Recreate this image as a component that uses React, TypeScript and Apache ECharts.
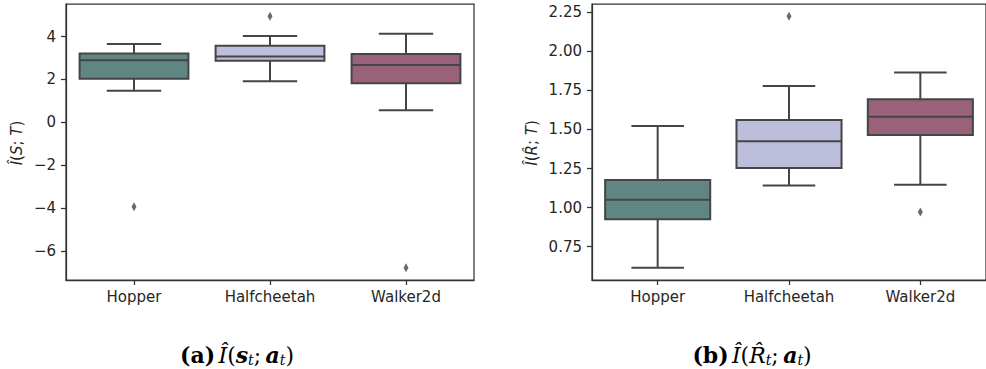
import React, { useEffect, useRef } from "react";
import * as echarts from "echarts";

const categories = ["Hopper", "Halfcheetah", "Walker2d"];

// [whiskerLow, Q1, median, Q3, whiskerHigh]
const boxStatsA = [
  [1.47, 2.03, 2.9, 3.21, 3.66],
  [1.92, 2.87, 3.07, 3.57, 4.03],
  [0.56, 1.83, 2.68, 3.19, 4.13],
];
const outliersA: [string, number][] = [
  ["Hopper", -3.93],
  ["Halfcheetah", 4.95],
  ["Walker2d", -6.78],
];
const boxStatsB = [
  [0.615, 0.926, 1.051, 1.177, 1.523],
  [1.141, 1.254, 1.425, 1.56, 1.778],
  [1.147, 1.465, 1.581, 1.694, 1.865],
];
const outliersB: [string, number][] = [
  ["Halfcheetah", 2.224],
  ["Walker2d", 0.972],
];
const ticksA = [-6, -4, -2, 0, 2, 4];
const ticksB = [0.75, 1.0, 1.25, 1.5, 1.75, 2.0, 2.25];
const rangeA = [-7.35, 5.52];
const rangeB = [0.537, 2.303];

const boxColors = ["#5f8682", "#bcbedc", "#99627a"];
const edge = "#454545";
const textColor = "#262626";
const sans = "DejaVu Sans";
const serif = "DejaVu Serif";

function makeRenderBox() {
  return (params: any, api: any) => {
    const x = api.value(0);
    const p = (i: number) => api.coord([x, api.value(i)]);
    const [cx, yMin] = p(1);
    const yQ1 = p(2)[1];
    const yMed = p(3)[1];
    const yQ3 = p(4)[1];
    const yMax = p(5)[1];
    const bw = api.size([1, 0])[0] * 0.8;
    const cap = bw / 4;
    const ls = { stroke: edge, lineWidth: 2 };
    return {
      type: "group",
      children: [
        { type: "line", shape: { x1: cx, y1: yQ3, x2: cx, y2: yMax }, style: ls },
        { type: "line", shape: { x1: cx, y1: yQ1, x2: cx, y2: yMin }, style: ls },
        { type: "line", shape: { x1: cx - cap, y1: yMax, x2: cx + cap, y2: yMax }, style: ls },
        { type: "line", shape: { x1: cx - cap, y1: yMin, x2: cx + cap, y2: yMin }, style: ls },
        {
          type: "rect",
          shape: { x: cx - bw / 2, y: yQ3, width: bw, height: yQ1 - yQ3 },
          style: { fill: boxColors[params.dataIndex], stroke: edge, lineWidth: 2 },
        },
        { type: "line", shape: { x1: cx - bw / 2, y1: yMed, x2: cx + bw / 2, y2: yMed }, style: ls },
      ],
    };
  };
}

const fmtA = (v: number) => (v < 0 ? "\u2212" + Math.abs(v) : String(v));
const fmtB = (v: number) => v.toFixed(2);

function yAxisCfg(gridIndex: number, range: number[], ticks: number[], fmt: (v: number) => string) {
  return {
    type: "value",
    gridIndex,
    min: range[0],
    max: range[1],
    splitLine: { show: false },
    axisLine: { show: true, lineStyle: { color: "#333", width: 1.25 } },
    axisTick: { show: true, length: 5, customValues: ticks, lineStyle: { color: "#333", width: 1.25 } },
    axisLabel: {
      customValues: ticks,
      formatter: fmt,
      margin: 10,
      color: textColor,
      fontFamily: sans,
      fontSize: 15,
    },
  };
}

function xAxisCfg(gridIndex: number) {
  return {
    type: "category",
    gridIndex,
    data: categories,
    boundaryGap: true,
    axisLine: { show: true, onZero: false, lineStyle: { color: "#333", width: 1.25 } },
    axisTick: { show: true, alignWithLabel: true, length: 5, lineStyle: { color: "#333", width: 1.25 } },
    axisLabel: { margin: 9, color: textColor, fontFamily: sans, fontSize: 15 },
    splitLine: { show: false },
  };
}

const labelRich = {
  i: { fontFamily: sans, fontStyle: "italic", fontSize: 15, fill: textColor },
  n: { fontFamily: sans, fontSize: 15, fill: textColor },
};

const capRich = {
  b: { fontFamily: serif, fontWeight: "bold", fontSize: 22, lineHeight: 24, fill: "#000" },
  i: { fontFamily: serif, fontStyle: "italic", fontSize: 22, lineHeight: 24, fill: "#000" },
  bi: { fontFamily: serif, fontStyle: "italic", fontWeight: "bold", fontSize: 22, lineHeight: 24, fill: "#000" },
  n: { fontFamily: serif, fontSize: 22, lineHeight: 24, fill: "#000" },
  sub: { fontFamily: serif, fontStyle: "italic", fontSize: 14, lineHeight: 12, verticalAlign: "bottom", fill: "#000" },
};

export default function App() {
  const ref = useRef<HTMLDivElement>(null);
  useEffect(() => {
    document.body.style.margin = "0";
    if (!ref.current) return;
    const chart = echarts.init(ref.current, null, { renderer: "svg" });
    const gridBase = {
      show: true,
      borderColor: "#333",
      borderWidth: 1.25,
      backgroundColor: "transparent",
      containLabel: false,
    };
    chart.setOption({
      animation: false,
      backgroundColor: "#ffffff",
      grid: [
        { ...gridBase, left: 66, top: 4, width: 408, height: 276 },
        { ...gridBase, left: 592, top: 4, width: 396, height: 276 },
      ],
      xAxis: [xAxisCfg(0), xAxisCfg(1)],
      yAxis: [yAxisCfg(0, rangeA, ticksA, fmtA), yAxisCfg(1, rangeB, ticksB, fmtB)],
      series: [
        {
          type: "custom",
          xAxisIndex: 0,
          yAxisIndex: 0,
          renderItem: makeRenderBox(),
          encode: { x: 0, y: [1, 2, 3, 4, 5] },
          data: boxStatsA.map((b, i) => [i, ...b]),
          z: 2,
        },
        {
          type: "scatter",
          xAxisIndex: 0,
          yAxisIndex: 0,
          symbol: "diamond",
          symbolSize: [5, 9],
          itemStyle: { color: edge },
          data: outliersA,
          z: 3,
        },
        {
          type: "custom",
          xAxisIndex: 1,
          yAxisIndex: 1,
          renderItem: makeRenderBox(),
          encode: { x: 0, y: [1, 2, 3, 4, 5] },
          data: boxStatsB.map((b, i) => [i, ...b]),
          z: 2,
        },
        {
          type: "scatter",
          xAxisIndex: 1,
          yAxisIndex: 1,
          symbol: "diamond",
          symbolSize: [5, 9],
          itemStyle: { color: edge },
          data: outliersB,
          z: 3,
        },
      ],
      graphic: [
        {
          type: "text",
          x: 17,
          y: 143,
          rotation: Math.PI / 2,
          style: {
            text: "{i|Î}{n|(}{i|S}{n|; }{i|T}{n|)}",
            rich: labelRich,
            align: "center",
            verticalAlign: "middle",
          },
        },
        {
          type: "text",
          x: 532,
          y: 143,
          rotation: Math.PI / 2,
          style: {
            text: "{i|Î}{n|(}{i|R\u0302}{n|; }{i|T}{n|)}",
            rich: labelRich,
            align: "center",
            verticalAlign: "middle",
          },
        },
        {
          type: "text",
          x: 237,
          y: 355,
          style: {
            text: "{b|(a)} {i|Î}{n|(}{bi|s}{sub|t}{n|;\u2009}{bi|a}{sub|t}{n|)}",
            rich: capRich,
            align: "center",
            verticalAlign: "middle",
          },
        },
        {
          type: "text",
          x: 752,
          y: 355,
          style: {
            text: "{b|(b)} {i|Î}{n|(}{i|R\u0302}{sub|t}{n|;\u2009}{bi|a}{sub|t}{n|)}",
            rich: capRich,
            align: "center",
            verticalAlign: "middle",
          },
        },
      ],
    });
    return () => chart.dispose();
  }, []);
  return <div ref={ref} style={{ width: 986, height: 369 }} />;
}
